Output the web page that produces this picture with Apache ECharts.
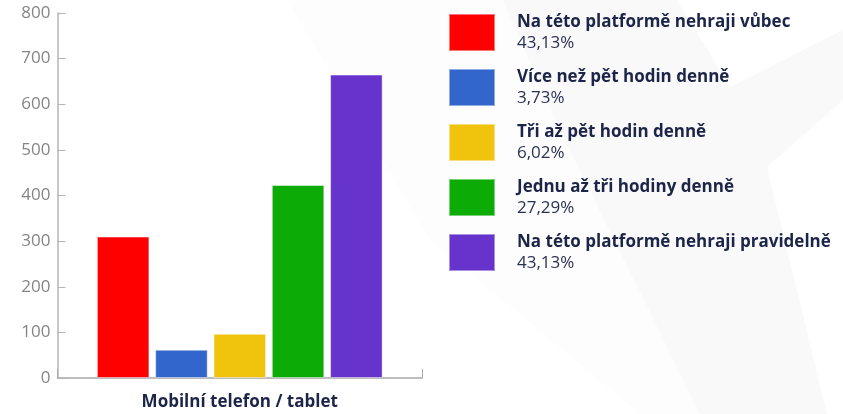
<!DOCTYPE html>
<html lang="cs">
  <head>
    <meta charset="UTF-8" />
    <title>Mobilní telefon / tablet</title>
    <script src="https://cdn.jsdelivr.net/npm/echarts@6/dist/echarts.min.js"></script>
    <style>
      html, body { margin: 0; padding: 0; background: #fff; }
      #chart { width: 843px; height: 414px; }
    </style>
  </head>
  <body>
    <div id="chart"></div>
    <script>
      const categories = ["Mobilní telefon / tablet"];
      const seriesNames = [
        "Na této platformě nehraji vůbec",
        "Více než pět hodin denně",
        "Tři až pět hodin denně",
        "Jednu až tři hodiny denně",
        "Na této platformě nehraji pravidelně",
      ];
      const values = [310, 62, 97, 423, 665];
      const percents = ["43,13%", "3,73%", "6,02%", "27,29%", "43,13%"];
      const colors = ["#ff0000", "#3366cc", "#f0c30d", "#0dab05", "#6633cc"];
      const yTicks = [0, 100, 200, 300, 400, 500, 600, 700, 800];

      const chart = echarts.init(document.getElementById("chart"));
      const font = "'Open Sans', 'Noto Sans', sans-serif";

      // svetly vodoznak v pozadi
      const watermark = [
        {
          type: "polygon",
          silent: true,
          z: -10,
          shape: { points: [[287, 0], [503, 0], [560, 130], [700, 414], [640, 414], [430, 240]] },
          style: { fill: "#fdfdfd" },
        },
        {
          type: "polygon",
          silent: true,
          z: -10,
          shape: {
            points: [[503, 0], [677, 0], [730, 87], [843, 30], [843, 100], [767, 167], [827, 414], [700, 414], [560, 130]],
          },
          style: { fill: "#f9f9fa" },
        },
      ];

      const series = seriesNames.map((name, i) => ({
        name: name,
        type: "bar",
        data: [values[i]],
        barGap: "11%",
        barCategoryGap: "21.6%",
        itemStyle: {
          color: colors[i],
          borderColor: "rgba(255,255,255,0.45)",
          borderWidth: 1,
        },
      }));

      const option = {
        backgroundColor: "#ffffff",
        animation: false,
        graphic: watermark,
        grid: { left: 57.5, right: 421, top: 13, bottom: 36, containLabel: false },
        legend: {
          orient: "vertical",
          left: 443,
          top: 8,
          icon: "rect",
          itemWidth: 46,
          itemHeight: 37,
          itemGap: 16,
          data: seriesNames,
          formatter: (name) => {
            const i = seriesNames.indexOf(name);
            return "{n|" + name + "}\n{p|" + percents[i] + "}";
          },
          textStyle: {
            padding: [0, 0, 0, 17],
            rich: {
              n: { fontFamily: font, fontSize: 17, fontWeight: "bold", color: "#1c2447", lineHeight: 21 },
              p: { fontFamily: font, fontSize: 17, color: "#2a3152", lineHeight: 20 },
            },
          },
        },
        xAxis: {
          type: "category",
          data: categories,
          axisLine: { lineStyle: { color: "#a8a8a8", width: 1.5 } },
          axisTick: { show: true, inside: true, length: 9, lineStyle: { color: "#a8a8a8" } },
          axisLabel: {
            margin: 16,
            fontFamily: font,
            fontSize: 17,
            fontWeight: "bold",
            color: "#1c2447",
          },
        },
        yAxis: {
          type: "value",
          min: yTicks[0],
          max: yTicks[yTicks.length - 1],
          interval: 100,
          axisLine: { show: true, lineStyle: { color: "#b5b5b5", width: 1.5 } },
          axisTick: { show: true, inside: true, length: 8, lineStyle: { color: "#b5b5b5" } },
          axisLabel: { margin: 7, fontFamily: font, fontSize: 17, color: "#858585" },
          splitLine: { show: false },
        },
        series: series,
      };

      chart.setOption(option);
    </script>
  </body>
</html>
